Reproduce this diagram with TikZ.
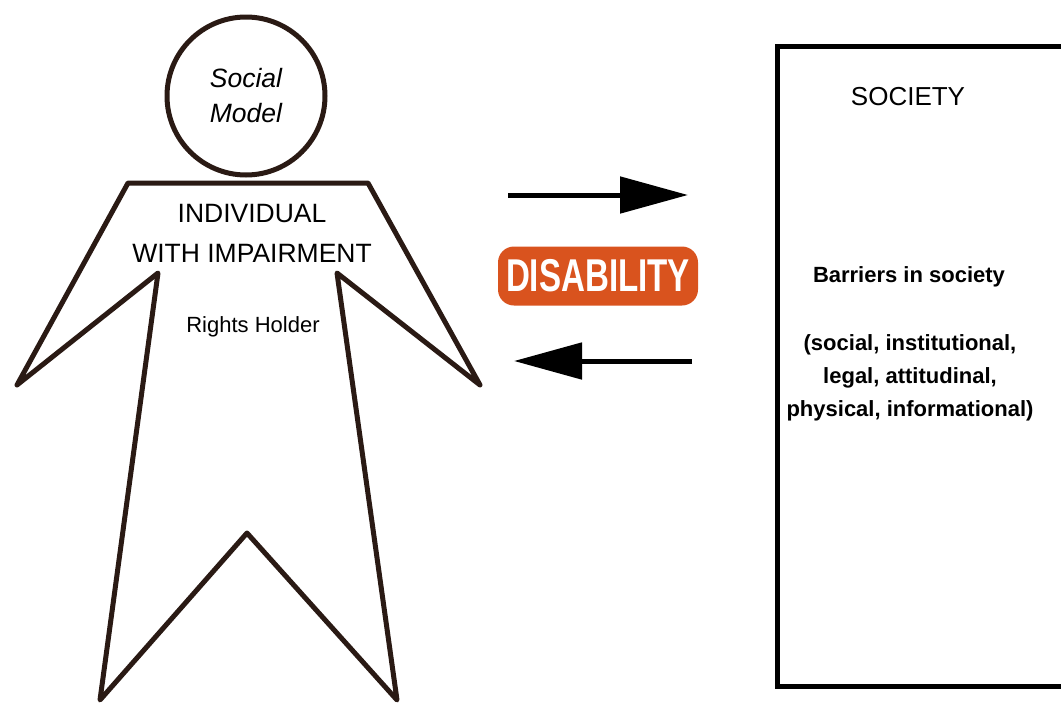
\documentclass[tikz,border=0pt]{standalone}
\usepackage{fontspec}
\setmainfont{Liberation Sans}
\newfontfamily\narrowfont[FakeStretch=0.72]{Liberation Sans}
\usepackage{tikz}
\usetikzlibrary{arrows.meta,positioning}
\definecolor{figbrown}{RGB}{42,26,20}
\definecolor{pillorange}{RGB}{217,83,30}

\begin{document}
\begin{tikzpicture}[x=1pt,y=-1pt,
   figline/.style={draw=figbrown,line width=5pt,line join=round},
   boxline/.style={draw=black,line width=5pt},
   flow/.style={draw=black,line width=5pt,-{Triangle[length=68pt,width=36pt]}},
   pill/.style={fill=pillorange,rounded corners=16pt,minimum width=200pt,minimum height=59pt,
     text=white,font=\narrowfont\bfseries\fontsize{46}{46}\selectfont,inner sep=0pt},
   bigtext/.style={font=\fontsize{26.5}{40}\selectfont,align=center},
   smalltext/.style={font=\bfseries\fontsize{22}{33}\selectfont,align=center}]
\useasboundingbox (0,0) rectangle (1061,710);
% the person
\node[circle,figline,minimum size=158pt,inner sep=0pt,align=center,
   font=\itshape\fontsize{26.5}{35}\selectfont] (head) at (246,96) {Social\\Model};
\draw[figline] (128,183) -- (368,183) -- (480,385) -- (337,273) -- (397,700)
   -- (247,533) -- (100,700) -- (158,273) -- (17,385) -- cycle;
\node[bigtext] (indiv) at (252,233) {INDIVIDUAL\\WITH IMPAIRMENT};
\node[font=\fontsize{22}{26}\selectfont] (rights) at (253,327) {Rights Holder};
% society
\draw[boxline] (1075,46) -- (777,46) -- (777,686) -- (1075,686);
\node[font=\fontsize{26}{30}\selectfont] (society) at (908,97) {SOCIETY};
\node[smalltext] (barriers) at (909,277) {Barriers in society};
\node[smalltext] (kinds) at (910,378) {(social, institutional,\\legal, attitudinal,\\physical, informational)};
% between
\node[pill] (disab) at (598,276) {DISABILITY};
\coordinate (ra) at (508,195);
\coordinate (rb) at (688,195);
\coordinate (la) at (692,361);
\coordinate (lb) at (514,361);
\draw[flow] (ra) -- (rb);
\draw[flow] (la) -- (lb);
\end{tikzpicture}
\end{document}
